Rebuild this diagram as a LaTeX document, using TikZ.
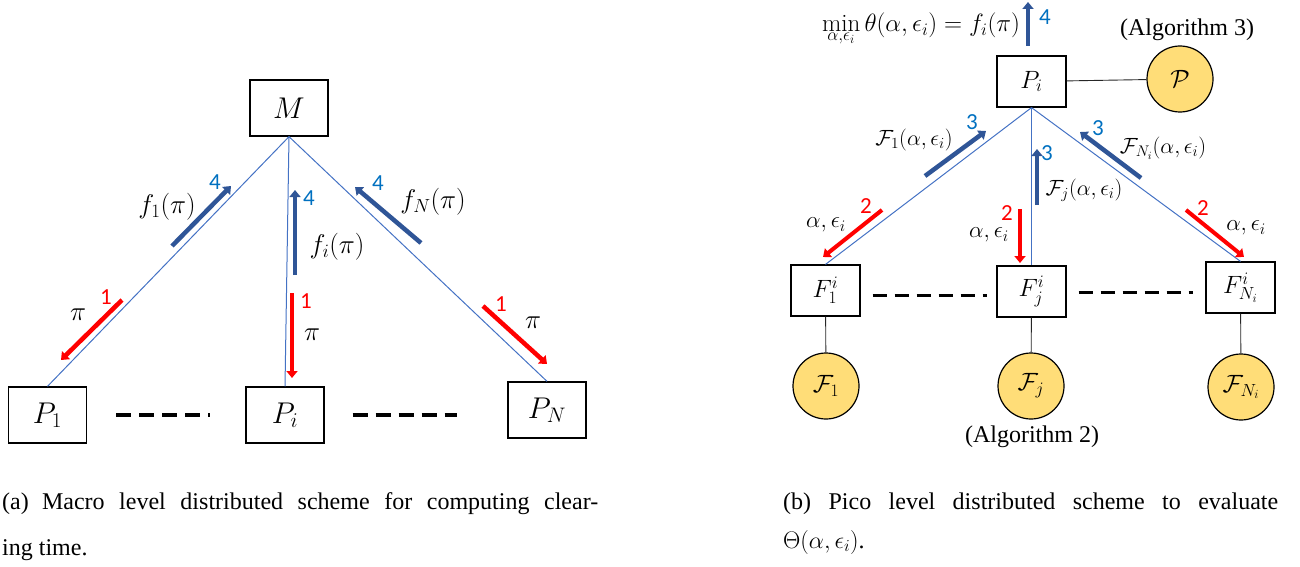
\RequirePackage{fix-cm}
\documentclass[tikz,border=0pt]{standalone}
\usepackage{fontspec}
\usetikzlibrary{arrows.meta,calc}
\newfontfamily\numfont{Carlito}
\newfontfamily\capfont{Liberation Serif}
\definecolor{linkblue}{RGB}{68,114,196}
\definecolor{arrblue}{RGB}{47,85,151}
\definecolor{numblue}{RGB}{0,112,192}
\definecolor{goldfill}{RGB}{255,221,120}
\definecolor{pured}{RGB}{255,0,0}
\tikzset{
  box/.style={draw, line width=1.3pt, minimum width=78pt, minimum height=56pt, inner sep=0pt, font=\fontsize{30}{34}\selectfont},
  sbox/.style={draw, line width=1.2pt, minimum width=69pt, minimum height=51pt, inner sep=0pt, font=\fontsize{25}{28}\selectfont},
  solver/.style={circle, draw, line width=1.2pt, fill=goldfill, minimum size=66pt, inner sep=0pt, font=\fontsize{25}{28}\selectfont},
  link/.style={draw=linkblue, line width=1pt},
  tie/.style={draw=black!85, line width=0.9pt},
  dots/.style={draw, line width=3.3pt, dash pattern=on 15pt off 8pt},
  sdots/.style={draw, line width=3pt, dash pattern=on 14pt off 8pt},
  redarr/.style={draw=pured, line width=4.5pt, -{Triangle[length=7pt,width=11pt]}},
  bluearr/.style={draw=arrblue, line width=4.5pt, -{Triangle[length=7pt,width=11pt]}},
  lab/.style={font=\fontsize{27}{30}\selectfont, inner sep=0pt},
  slab/.style={font=\fontsize{22}{25}\selectfont, inner sep=0pt},
  alab/.style={font=\fontsize{23}{26}\selectfont, inner sep=0pt},
  rnum/.style={text=pured, font=\numfont\fontsize{23}{25}\selectfont, inner sep=0pt},
  bnum/.style={text=numblue, font=\numfont\fontsize{23}{25}\selectfont, inner sep=0pt},
  capt/.style={font=\capfont\fontsize{24}{27}\selectfont, inner sep=0pt, anchor=base west},
  algo/.style={font=\capfont\fontsize{24}{27}\selectfont, inner sep=0pt},
}
\begin{document}
\begin{tikzpicture}[x=1pt,y=-1pt]
\useasboundingbox (0,0) rectangle (1300,567);
% ---------- left: macro level ----------
\node[box] (M) at (289,108) {$M$};
\node[box] (P1) at (47.5,415) {$P_1$};
\node[box] (Pi) at (285,415) {$P_i$};
\node[box] (PN) at (547,410) {$P_N$};
\draw[link] (M.south) -- (P1.north);
\draw[link] (M.south) -- (Pi.north);
\draw[link] (M.south) -- (PN.north);
\draw[dots, shorten <=29pt, shorten >=35pt] (P1.east) -- (Pi.west);
\draw[dots, shorten <=28pt, shorten >=50pt] (Pi.east) -- (Pi.east -| PN.west);
% arrows and labels
\draw[bluearr] (172,246) -- (231,186);
\node[bnum] (n4a) at (215,182) {4};
\node[lab] (f1) at (167,207) {$f_1(\pi)$};
\draw[bluearr, line width=3.8pt] (295,275) -- (295,190);
\node[bnum] (n4b) at (309,198) {4};
\node[lab] (fi) at (337,247) {$f_i(\pi)$};
\draw[bluearr] (421,243) -- (355,187);
\node[bnum] (n4c) at (378,183) {4};
\node[lab] (fN) at (433,202) {$f_N(\pi)$};
\draw[redarr] (122,300) -- (61,360);
\node[rnum] (n1a) at (106,297) {1};
\node[lab] (pia) at (78,315) {$\pi$};
\draw[redarr] (292,293) -- (292,378);
\node[rnum] (n1b) at (306,301) {1};
\node[lab] (pib) at (312,335) {$\pi$};
\draw[redarr] (483,306) -- (547,364);
\node[rnum] (n1c) at (501,304) {1};
\node[lab] (pic) at (533,323) {$\pi$};
% ---------- right: pico level ----------
\node[sbox] (Ri) at (1031.5,81.5) {$P_i$};
\node[solver] (PP) at (1180,79) {$\mathcal{P}$};
\draw[tie] (Ri) -- (PP);
\node[algo] (alg3) at (1187,30) {(Algorithm 3)};
\node[sbox] (F1) at (825.5,290.5) {$F_1^i$};
\node[sbox] (Fj) at (1031.5,291.5) {$F_j^i$};
\node[sbox] (FN) at (1240.5,287.5) {$F_{N_i}^i$};
\node[solver] (C1) at (826,386) {$\mathcal{F}_1$};
\node[solver] (Cj) at (1031,386) {$\mathcal{F}_j$};
\node[solver] (CN) at (1241,387) {$\mathcal{F}_{N_i}$};
\node[algo] (alg2) at (1032,437) {(Algorithm 2)};
\draw[tie] (F1) -- (C1);
\draw[tie] (Fj) -- (Cj);
\draw[tie] (FN) -- (CN);
\draw[link] (Ri.south) -- (F1.north);
\draw[link] (Ri.south) -- (Fj.north);
\draw[link] (Ri.south) -- (FN.north);
\draw[sdots, shorten <=12pt, shorten >=9pt] ($(F1.east)+(0,5)$) -- ($(F1.east -| Fj.west)+(0,5)$);
\draw[sdots, shorten <=12pt, shorten >=12pt] ($(Fj.east)+(0,0.5)$) -- ($(Fj.east -| FN.west)+(0,0.5)$);
% top output
\coordinate (topend) at (1028,2);
\draw[bluearr, line width=3.5pt] (1028,46) -- (topend);
\node[bnum] (n4r) at (1045,17) {4};
\node[inner sep=0pt, font=\fontsize{25}{28}\selectfont] (minlab) at (921,29) {$\displaystyle\min_{\alpha,\epsilon_i}\theta(\alpha,\epsilon_i)=f_i(\pi)$};
% blue arrows (3)
\draw[bluearr] (925,176) -- (986,131);
\node[bnum] (n3a) at (972,122) {3};
\node[slab] (F1lab) at (914,140) {$\mathcal{F}_1(\alpha,\epsilon_i)$};
\draw[bluearr, line width=3.5pt] (1037,205) -- (1037,149);
\node[bnum] (n3b) at (1047,153) {3};
\node[slab] (Fjlab) at (1084,190) {$\mathcal{F}_j(\alpha,\epsilon_i)$};
\draw[bluearr] (1141,178) -- (1080,132);
\node[bnum] (n3c) at (1098,128) {3};
\node[slab] (FNlab) at (1163,148) {$\mathcal{F}_{N_i}(\alpha,\epsilon_i)$};
% red arrows (2)
\draw[redarr, line width=4pt] (882,210) -- (823,257);
\node[rnum] (n2a) at (866,206) {2};
\node[alab] (ae1) at (826,225) {$\alpha,\epsilon_i$};
\draw[redarr, line width=4pt] (1020,209) -- (1020,263);
\node[rnum] (n2b) at (1007,213) {2};
\node[alab] (ae2) at (989,235) {$\alpha,\epsilon_i$};
\draw[redarr, line width=4pt] (1186,210) -- (1244,257);
\node[rnum] (n2c) at (1203,208) {2};
\node[alab] (ae3) at (1246,228) {$\alpha,\epsilon_i$};
% ---------- captions ----------
\node[capt] (capa1) at (2,509) {\hbox to 596pt{(a)\hskip 0.55em Macro level distributed scheme for computing clear-}};
\node[capt] (capa2) at (2,555) {ing time.};
\node[capt] (capb1) at (783,509) {\hbox to 495pt{(b) Pico level distributed scheme to evaluate}};
\node[capt] (capb2) at (783,548) {$\Theta(\alpha,\epsilon_i)$.};
\end{tikzpicture}
\end{document}
